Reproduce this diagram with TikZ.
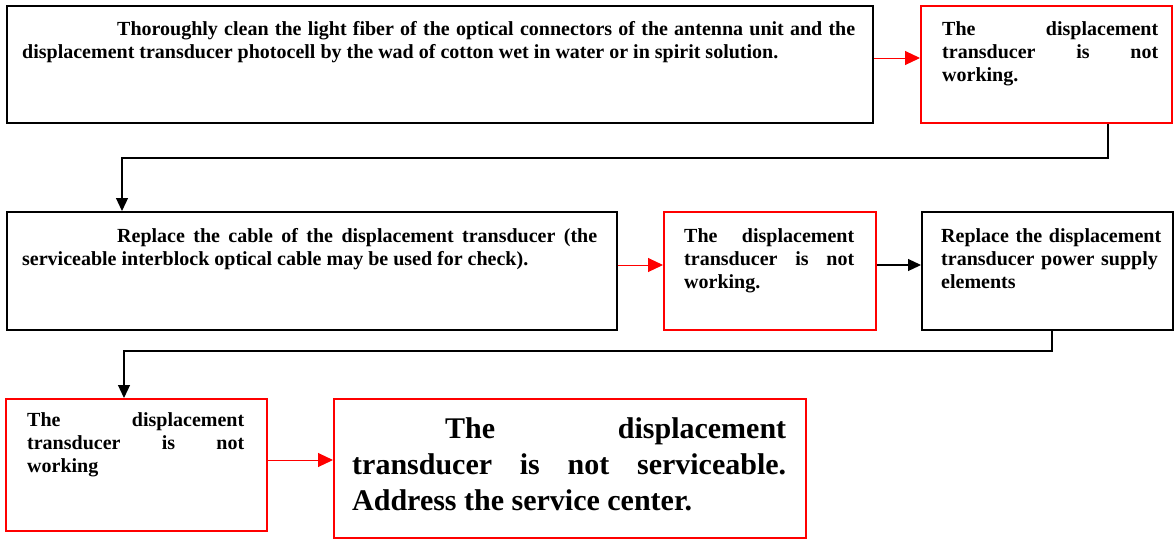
\documentclass[tikz,border=0pt]{standalone}
\usepackage{fontspec}
\setmainfont{Liberation Serif}
\usetikzlibrary{arrows.meta,calc}
\definecolor{boxred}{RGB}{255,0,0}
\lefthyphenmin=62
\righthyphenmin=62
\newcommand{\nohy}{\lefthyphenmin=62\relax\righthyphenmin=62\relax\hyphenpenalty=10000\relax\exhyphenpenalty=10000\relax\tolerance=10000\relax\emergencystretch=200pt\relax}
\begin{document}
\begin{tikzpicture}[x=1pt,y=-1pt,
  bx/.style={draw=black,line width=1.6pt,rectangle,inner sep=0pt,anchor=north west},
  rbx/.style={draw=boxred,line width=2.4pt,rectangle,inner sep=0pt,anchor=north west},
  txtbase/.style={inner sep=0pt,anchor=base west,font=\fontsize{20}{23}\selectfont\bfseries},
  txt/.style={txtbase,align=justify},
  bigtxt/.style={inner sep=0pt,anchor=base west,align=justify,
    font=\fontsize{30}{36}\selectfont\bfseries},
  arr/.style={line width=1.2pt,-{Triangle[length=13pt,width=12pt]}},
  rarr/.style={draw=boxred,fill=boxred,line width=1pt,-{Triangle[length=15pt,width=14pt]}}]
\useasboundingbox (0,0) rectangle (1174,539);
% boxes
\node[bx,line width=2pt,minimum width=866pt,minimum height=117pt] (b1) at (6,5) {};
\node[rbx,minimum width=251pt,minimum height=117pt] (b2) at (920,5) {};
\node[bx,minimum width=610pt,minimum height=118pt] (b3) at (6,211) {};
\node[rbx,minimum width=212pt,minimum height=118pt] (b4) at (663,211) {};
\node[bx,minimum width=251pt,minimum height=118pt] (b5) at (921,211) {};
\node[rbx,minimum width=261pt,minimum height=132pt] (b6) at (5,398) {};
\node[rbx,minimum width=472pt,minimum height=139pt] (b7) at (333,398) {};
% texts
\node[txt,text width=833pt] (t1) at (22,35) {\nohy\hspace*{95pt}Thoroughly clean the light fiber of the optical connectors of the antenna unit and the displacement transducer photocell by the wad of cotton wet in water or in spirit solution.};
\node[txt,text width=216pt] (t2) at (942,35) {\nohy The displacement transducer is not working.};
\node[txt,text width=575pt] (t3) at (22,242) {\nohy\hspace*{95pt}Replace the cable of the displacement transducer (the serviceable interblock optical cable may be used for check).};
\node[txt,text width=170pt] (t4) at (684,242) {\nohy The displacement transducer is not working.};
\node[txtbase,text width=222pt] (t5) at (941,242) {\nohy\raggedright Replace the displacement transducer power supply elements};
\node[txt,text width=217pt] (t6) at (27,426) {\nohy The displacement transducer is not\linebreak working};
\node[bigtxt,text width=434pt] (t7) at (352,438) {\nohy\hspace*{93pt}The displacement transducer is not serviceable. Address the service center.};
% connectors
\draw[rarr] ($(b1.north east)+(0,53)$) -- ($(b2.north west)+(0,53)$);
\draw[arr] ($(b2.south west)+(188,0)$) |- ($(b3.north west)+(116,-53)$) -- ($(b3.north west)+(116,0)$);
\draw[rarr] ($(b3.north east)+(0,54)$) -- ($(b4.north west)+(0,54)$);
\draw[arr] ($(b4.north east)+(0,54)$) -- ($(b5.north west)+(0,54)$);
\draw[arr] ($(b5.south west)+(131,0)$) |- ($(b6.north west)+(119,-47)$) -- ($(b6.north west)+(119,0)$);
\draw[rarr] ($(b6.north east)+(0,62)$) -- ($(b7.north west)+(0,62)$);
\end{tikzpicture}
\end{document}
